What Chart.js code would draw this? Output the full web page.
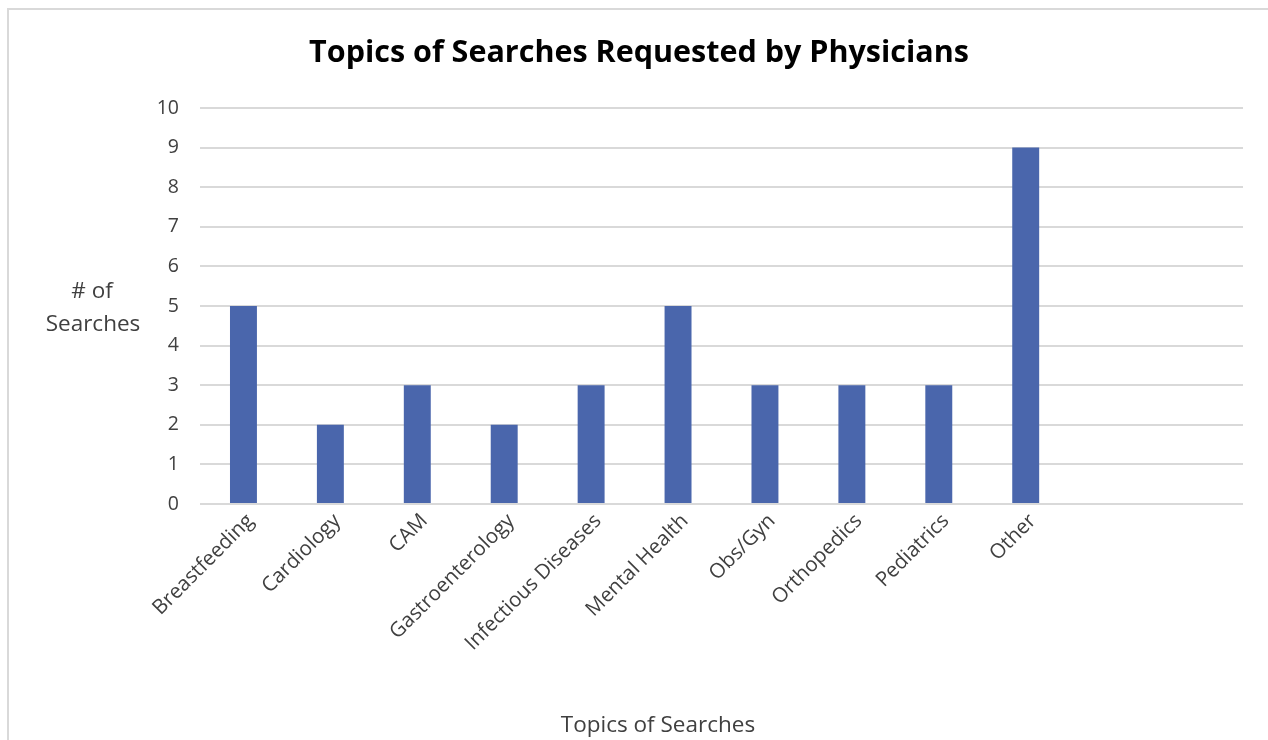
<!DOCTYPE html>
<html>
<head>
<meta charset="utf-8">
<script src="https://cdn.jsdelivr.net/npm/chart.js@4.4.1/dist/chart.umd.min.js"></script>
<style>
  html, body { margin: 0; padding: 0; background: #fff; overflow: hidden; }
  #frame { position: absolute; left: 7px; top: 8px; width: 1400px; height: 900px; border-top: 2px solid #d9d9d9; border-left: 2px solid #d9d9d9; }
  #wrap { position: absolute; left: 0; top: 0; width: 1268px; height: 740px; }
</style>
</head>
<body>
<div id="frame"></div>
<div id="wrap"><canvas id="chart" width="1268" height="740"></canvas></div>
<script>
const topics = ['Breastfeeding', 'Cardiology', 'CAM', 'Gastroenterology', 'Infectious Diseases', 'Mental Health', 'Obs/Gyn', 'Orthopedics', 'Pediatrics', 'Other', '', ''];
const searches = [5, 2, 3, 2, 3, 5, 3, 3, 3, 9, null, null];
const yTicks = [0, 1, 2, 3, 4, 5, 6, 7, 8, 9, 10];

const chartTitle = 'Topics of Searches Requested by Physicians';
const xTitle = 'Topics of Searches';
const yTitle = ['# of', 'Searches'];

const fontFamily = '"Open Sans", "Noto Sans", sans-serif';
const textColor = '#404040';

// chart title and axis titles, placed where the source chart has them (axis titles are flat)
const titles = {
  id: 'titles',
  afterDraw(chart) {
    const ctx = chart.ctx;
    ctx.save();
    ctx.textAlign = 'center';
    ctx.textBaseline = 'middle';
    ctx.fillStyle = '#000';
    ctx.font = 'bold 30.5px ' + fontFamily;
    ctx.fillText(chartTitle, 639, 53);
    ctx.fillStyle = textColor;
    ctx.font = '22.5px ' + fontFamily;
    ctx.fillText(yTitle[0], 92, 292);
    ctx.fillText(yTitle[1], 93, 325);
    ctx.fillText(xTitle, 658, 726);
    ctx.restore();
  }
};

new Chart(document.getElementById('chart').getContext('2d'), {
  type: 'bar',
  data: {
    labels: topics,
    datasets: [{
      label: '# of Searches',
      data: searches,
      backgroundColor: '#4a66ac',
      categoryPercentage: 1,
      barPercentage: 0.31
    }]
  },
  options: {
    responsive: false,
    animation: false,
    layout: { padding: { left: 0, right: 25, top: 108, bottom: 0 } },
    plugins: {
      legend: { display: false },
      tooltip: { enabled: false },
      title: { display: false }
    },
    scales: {
      x: {
        grid: { display: false, drawTicks: false },
        border: { display: false },
        ticks: {
          color: textColor,
          font: { family: fontFamily, size: 20.5 },
          autoSkip: false,
          minRotation: 45,
          maxRotation: 45,
          labelOffset: 7,
          padding: 5
        },
        afterFit(scale) { scale.height = 236; }
      },
      y: {
        min: 0,
        max: 10,
        afterBuildTicks(scale) { scale.ticks = yTicks.map(v => ({ value: v })); },
        grid: { color: '#d9d9d9', lineWidth: 2, drawTicks: false },
        border: { display: false },
        ticks: {
          color: textColor,
          font: { family: fontFamily, size: 19.5 },
          padding: 21
        },
        afterFit(scale) { scale.width = 200; }
      }
    }
  },
  plugins: [titles]
});
</script>
</body>
</html>
